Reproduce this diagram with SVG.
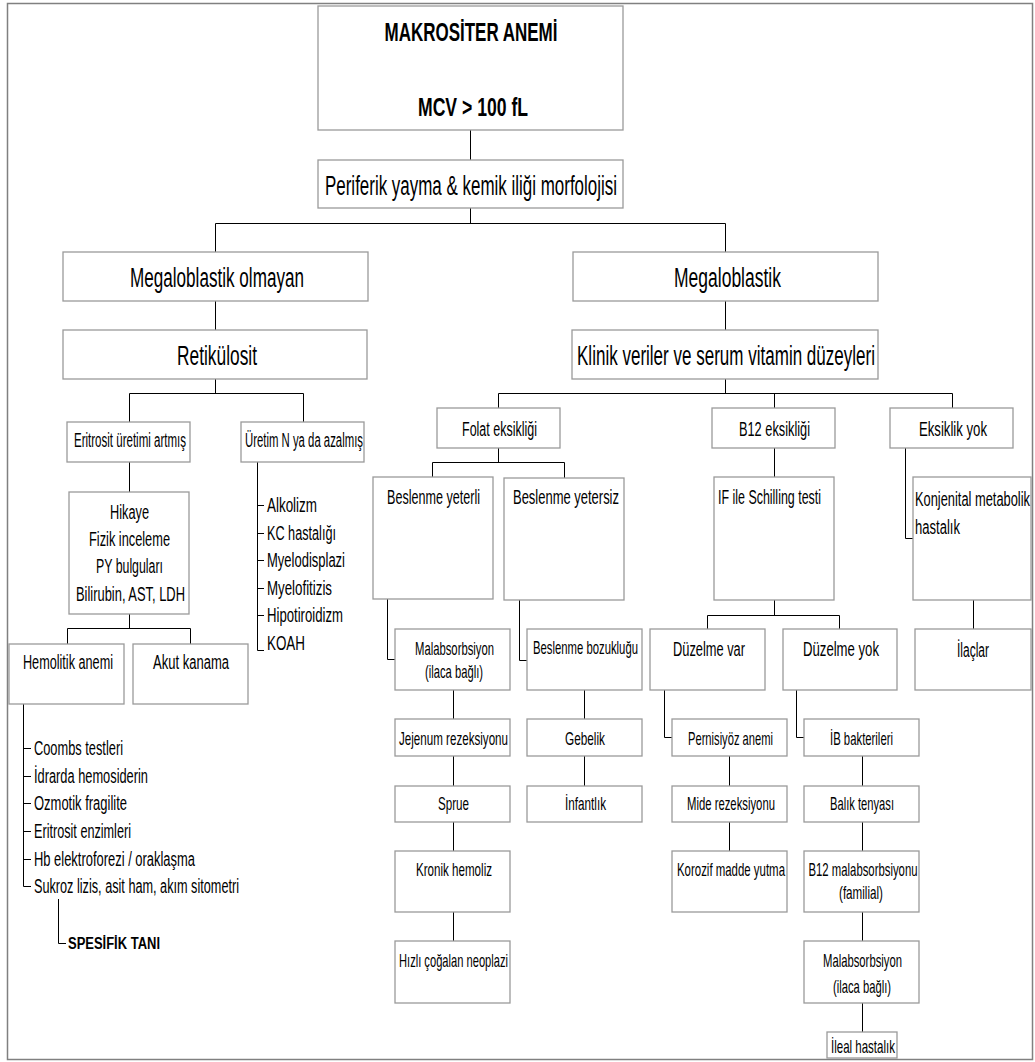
<svg xmlns="http://www.w3.org/2000/svg" width="1035" height="1062" viewBox="0 0 1035 1062">
<style>
.bx{fill:#fff;stroke:#9a9a9a;stroke-width:1.3}
.cn{fill:none;stroke:#000;stroke-width:1}
text{font-family:"Liberation Sans",Arial,sans-serif;fill:#000}
.m{text-anchor:middle}
.L{font-size:28px}
.M{font-size:20px}
.S{font-size:18px}
.B{font-weight:bold}
</style>
<rect x="7.5" y="3.5" width="1025" height="1056" fill="#fff" stroke="#808080" stroke-width="1.5"/>
<g id="connectors" class="cn">
<path d="M470.5 130V160M470.5 208V223.5M215.5 223.5H725.5M215.5 223.5V252M725.5 223.5V252"/>
<path d="M215.5 301V330M725.5 301V330"/>
<path d="M215.5 379V393.5M129.5 393.5H303.5M129.5 393.5V422M303.5 393.5V422"/>
<path d="M129.5 462V492M129.5 614V628.5M67.5 628.5H190.5M67.5 628.5V644M190.5 628.5V644"/>
<path d="M257.5 462V650.5H264M257.5 505.5H264M257.5 533.5H264M257.5 560.5H264M257.5 588.5H264M257.5 615.5H264"/>
<path d="M23.5 704V886.5H31M23.5 748.5H31M23.5 776.5H31M23.5 803.5H31M23.5 831.5H31M23.5 859.5H31"/>
<path d="M58.5 899V943.5H66"/>
<path d="M725.5 379V393.5M498.5 393.5H952.5M498.5 393.5V408M774.5 393.5V408M952.5 393.5V408"/>
<path d="M498.5 448V462.5M432.5 462.5H564.5M432.5 462.5V477M564.5 462.5V478"/>
<path d="M774.5 448V477M905.5 448V538.5H913"/>
<path d="M387.5 599V659.5H395M519.5 600V660.5H527"/>
<path d="M774.5 600V615.5M707.5 615.5H839.5M707.5 615.5V629M839.5 615.5V629M973.5 600V629"/>
<path d="M453.5 690V719M453.5 756V786M453.5 822V851M453.5 912V941"/>
<path d="M584.5 690V719M584.5 756V786"/>
<path d="M664.5 690V737.5H672M796.5 690V737.5H804"/>
<path d="M729.5 756V786M729.5 822V851"/>
<path d="M862.5 756V786M862.5 822V851M862.5 912V941M862.5 1003V1032"/>
</g>
<g id="n-top"><rect class="bx" x="318" y="6" width="305" height="124"/>
<text class="m B" transform="scale(.6 1)" x="785" y="41" font-size="26" textLength="288.33" lengthAdjust="spacingAndGlyphs">MAKROSİTER ANEMİ</text>
<text class="m B" transform="scale(.6 1)" x="788.33" y="116" font-size="26" textLength="183.33" lengthAdjust="spacingAndGlyphs">MCV &gt; 100 fL</text></g>
<g id="n-periferik"><rect class="bx" x="318" y="160" width="305" height="48"/>
<text class="m L" transform="scale(.6 1)" x="785" y="195" textLength="486.67" lengthAdjust="spacingAndGlyphs">Periferik yayma &amp; kemik iliği morfolojisi</text></g>
<g id="n-megolm"><rect class="bx" x="63" y="252" width="305" height="49"/>
<text class="m L" transform="scale(.6 1)" x="361.67" y="287" textLength="290" lengthAdjust="spacingAndGlyphs">Megaloblastik olmayan</text></g>
<g id="n-mega"><rect class="bx" x="573" y="252" width="305" height="49"/>
<text class="m L" transform="scale(.6 1)" x="1212.5" y="287" textLength="178.33" lengthAdjust="spacingAndGlyphs">Megaloblastik</text></g>
<g id="n-retik"><rect class="bx" x="63" y="330" width="304" height="49"/>
<text class="m L" transform="scale(.6 1)" x="361.67" y="365" textLength="133.33" lengthAdjust="spacingAndGlyphs">Retikülosit</text></g>
<g id="n-klinik"><rect class="bx" x="572" y="330" width="306" height="49"/>
<text class="m L" transform="scale(.6 1)" x="1210" y="365" textLength="496.67" lengthAdjust="spacingAndGlyphs">Klinik veriler ve serum vitamin düzeyleri</text></g>
<g id="n-eritart"><rect class="bx" x="67" y="422" width="123" height="40"/>
<text class="m M" transform="scale(.6 1)" x="216.67" y="447" textLength="186.67" lengthAdjust="spacingAndGlyphs">Eritrosit üretimi artmış</text></g>
<g id="n-uretimN"><rect class="bx" x="241" y="422" width="123" height="40"/>
<text class="m M" transform="scale(.6 1)" x="506.67" y="447" textLength="196.67" lengthAdjust="spacingAndGlyphs">Üretim N ya da azalmış</text></g>
<g id="n-uretim-list">
<text class="M" transform="scale(.6 1)" x="445" y="512" textLength="83.33" lengthAdjust="spacingAndGlyphs">Alkolizm</text>
<text class="M" transform="scale(.6 1)" x="445" y="540" textLength="115" lengthAdjust="spacingAndGlyphs">KC hastalığı</text>
<text class="M" transform="scale(.6 1)" x="445" y="567" textLength="130" lengthAdjust="spacingAndGlyphs">Myelodisplazi</text>
<text class="M" transform="scale(.6 1)" x="445" y="595" textLength="108.33" lengthAdjust="spacingAndGlyphs">Myelofitizis</text>
<text class="M" transform="scale(.6 1)" x="445" y="622" textLength="126.67" lengthAdjust="spacingAndGlyphs">Hipotiroidizm</text>
<text class="M" transform="scale(.6 1)" x="445" y="650" textLength="63.33" lengthAdjust="spacingAndGlyphs">KOAH</text></g>
<g id="n-hikaye"><rect class="bx" x="69" y="492" width="120" height="122"/>
<text class="m M" transform="scale(.6 1)" x="215.83" y="519" textLength="65" lengthAdjust="spacingAndGlyphs">Hikaye</text>
<text class="m M" transform="scale(.6 1)" x="215.83" y="546" textLength="135" lengthAdjust="spacingAndGlyphs">Fizik inceleme</text>
<text class="m M" transform="scale(.6 1)" x="215.83" y="573" textLength="111.67" lengthAdjust="spacingAndGlyphs">PY bulguları</text>
<text class="m M" transform="scale(.6 1)" x="217.5" y="601" textLength="181.67" lengthAdjust="spacingAndGlyphs">Bilirubin, AST, LDH</text></g>
<g id="n-hemolitik"><rect class="bx" x="9" y="644" width="115" height="60"/>
<text class="m M" transform="scale(.6 1)" x="113.33" y="669" textLength="150" lengthAdjust="spacingAndGlyphs">Hemolitik anemi</text></g>
<g id="n-akut"><rect class="bx" x="133" y="644" width="115" height="60"/>
<text class="m M" transform="scale(.6 1)" x="318.33" y="669" textLength="126.67" lengthAdjust="spacingAndGlyphs">Akut kanama</text></g>
<g id="n-hemolitik-list">
<text class="M" transform="scale(.6 1)" x="56.67" y="755" textLength="148.33" lengthAdjust="spacingAndGlyphs">Coombs testleri</text>
<text class="M" transform="scale(.6 1)" x="56.67" y="783" textLength="190" lengthAdjust="spacingAndGlyphs">İdrarda hemosiderin</text>
<text class="M" transform="scale(.6 1)" x="56.67" y="810" textLength="155" lengthAdjust="spacingAndGlyphs">Ozmotik fragilite</text>
<text class="M" transform="scale(.6 1)" x="56.67" y="838" textLength="161.67" lengthAdjust="spacingAndGlyphs">Eritrosit enzimleri</text>
<text class="M" transform="scale(.6 1)" x="56.67" y="866" textLength="268.33" lengthAdjust="spacingAndGlyphs">Hb elektroforezi / oraklaşma</text>
<text class="M" transform="scale(.6 1)" x="56.67" y="893" textLength="341.67" lengthAdjust="spacingAndGlyphs">Sukroz lizis, asit ham, akım sitometri</text></g>
<g id="n-spesifik"><text class="B" transform="scale(.6 1)" x="113.33" y="949" font-size="17" textLength="153.33" lengthAdjust="spacingAndGlyphs">SPESİFİK TANI</text></g>
<g id="n-folat"><rect class="bx" x="437" y="408" width="123" height="40"/>
<text class="m M" transform="scale(.6 1)" x="832.5" y="436" textLength="125" lengthAdjust="spacingAndGlyphs">Folat eksikliği</text></g>
<g id="n-b12"><rect class="bx" x="712" y="408" width="123" height="40"/>
<text class="m M" transform="scale(.6 1)" x="1290.83" y="436" textLength="118.33" lengthAdjust="spacingAndGlyphs">B12 eksikliği</text></g>
<g id="n-eksyok"><rect class="bx" x="890" y="408" width="123" height="40"/>
<text class="m M" transform="scale(.6 1)" x="1588.33" y="436" textLength="113.33" lengthAdjust="spacingAndGlyphs">Eksiklik yok</text></g>
<g id="n-besyet"><rect class="bx" x="373" y="477" width="120" height="122"/>
<text class="m M" transform="scale(.6 1)" x="722.5" y="504" textLength="155" lengthAdjust="spacingAndGlyphs">Beslenme yeterli</text></g>
<g id="n-besyetsiz"><rect class="bx" x="504" y="478" width="120" height="122"/>
<text class="m M" transform="scale(.6 1)" x="943.33" y="504" textLength="176.67" lengthAdjust="spacingAndGlyphs">Beslenme yetersiz</text></g>
<g id="n-schilling"><rect class="bx" x="714" y="477" width="120" height="123"/>
<text class="M" transform="scale(.6 1)" x="1196.67" y="504" textLength="171.67" lengthAdjust="spacingAndGlyphs">IF ile Schilling testi</text></g>
<g id="n-konj"><rect class="bx" x="913" y="477" width="118" height="123"/>
<text class="M" transform="scale(.6 1)" x="1525" y="506" textLength="191.67" lengthAdjust="spacingAndGlyphs">Konjenital metabolik</text>
<text class="M" transform="scale(.6 1)" x="1525" y="534" textLength="75" lengthAdjust="spacingAndGlyphs">hastalık</text></g>
<g id="n-malab1"><rect class="bx" x="395" y="629" width="115" height="61"/>
<text class="m S" transform="scale(.6 1)" x="757.5" y="655" textLength="131.67" lengthAdjust="spacingAndGlyphs">Malabsorbsiyon</text>
<text class="m S" transform="scale(.6 1)" x="756.67" y="678" textLength="96.67" lengthAdjust="spacingAndGlyphs">(ilaca bağlı)</text></g>
<g id="n-besboz"><rect class="bx" x="527" y="629" width="115" height="61"/>
<text class="m S" transform="scale(.6 1)" x="975.83" y="654" textLength="175" lengthAdjust="spacingAndGlyphs">Beslenme bozukluğu</text></g>
<g id="n-duzvar"><rect class="bx" x="650" y="629" width="115" height="61"/>
<text class="m M" transform="scale(.6 1)" x="1181.67" y="656" textLength="120" lengthAdjust="spacingAndGlyphs">Düzelme var</text></g>
<g id="n-duzyok"><rect class="bx" x="783" y="629" width="114" height="61"/>
<text class="m M" transform="scale(.6 1)" x="1401.67" y="656" textLength="126.67" lengthAdjust="spacingAndGlyphs">Düzelme yok</text></g>
<g id="n-ilaclar"><rect class="bx" x="915" y="629" width="116" height="61"/>
<text class="m M" transform="scale(.6 1)" x="1621.67" y="657" textLength="53.33" lengthAdjust="spacingAndGlyphs">İlaçlar</text></g>
<g id="n-jejenum"><rect class="bx" x="395" y="719" width="115" height="37"/>
<text class="m S" transform="scale(.6 1)" x="755.83" y="745" textLength="181.67" lengthAdjust="spacingAndGlyphs">Jejenum rezeksiyonu</text></g>
<g id="n-gebelik"><rect class="bx" x="527" y="719" width="115" height="37"/>
<text class="m S" transform="scale(.6 1)" x="975" y="745" textLength="66.67" lengthAdjust="spacingAndGlyphs">Gebelik</text></g>
<g id="n-sprue"><rect class="bx" x="395" y="786" width="115" height="36"/>
<text class="m S" transform="scale(.6 1)" x="755.83" y="810" textLength="51.67" lengthAdjust="spacingAndGlyphs">Sprue</text></g>
<g id="n-infant"><rect class="bx" x="527" y="786" width="115" height="36"/>
<text class="m S" transform="scale(.6 1)" x="975.83" y="810" textLength="68.33" lengthAdjust="spacingAndGlyphs">İnfantlık</text></g>
<g id="n-kronik"><rect class="bx" x="395" y="851" width="115" height="61"/>
<text class="m S" transform="scale(.6 1)" x="756.67" y="876" textLength="126.67" lengthAdjust="spacingAndGlyphs">Kronik hemoliz</text></g>
<g id="n-hizli"><rect class="bx" x="395" y="941" width="115" height="62"/>
<text class="m S" transform="scale(.6 1)" x="755.83" y="967" textLength="181.67" lengthAdjust="spacingAndGlyphs">Hızlı çoğalan neoplazi</text></g>
<g id="n-pernis"><rect class="bx" x="672" y="719" width="115" height="37"/>
<text class="m S" transform="scale(.6 1)" x="1217.5" y="745" textLength="141.67" lengthAdjust="spacingAndGlyphs">Pernisiyöz anemi</text></g>
<g id="n-mide"><rect class="bx" x="672" y="786" width="115" height="36"/>
<text class="m S" transform="scale(.6 1)" x="1218.33" y="810" textLength="146.67" lengthAdjust="spacingAndGlyphs">Mide rezeksiyonu</text></g>
<g id="n-koroz"><rect class="bx" x="672" y="851" width="115" height="61"/>
<text class="m S" transform="scale(.6 1)" x="1218.33" y="876" textLength="180" lengthAdjust="spacingAndGlyphs">Korozif madde yutma</text></g>
<g id="n-ib"><rect class="bx" x="804" y="719" width="115" height="37"/>
<text class="m S" transform="scale(.6 1)" x="1435.83" y="745" textLength="105" lengthAdjust="spacingAndGlyphs">İB bakterileri</text></g>
<g id="n-balik"><rect class="bx" x="804" y="786" width="115" height="36"/>
<text class="m S" transform="scale(.6 1)" x="1436.67" y="810" textLength="106.67" lengthAdjust="spacingAndGlyphs">Balık tenyası</text></g>
<g id="n-b12mal"><rect class="bx" x="804" y="851" width="115" height="61"/>
<text class="m S" transform="scale(.6 1)" x="1438.33" y="876" textLength="181.67" lengthAdjust="spacingAndGlyphs">B12 malabsorbsiyonu</text>
<text class="m S" transform="scale(.6 1)" x="1435" y="899" textLength="73.33" lengthAdjust="spacingAndGlyphs">(familial)</text></g>
<g id="n-malab2"><rect class="bx" x="804" y="941" width="115" height="62"/>
<text class="m S" transform="scale(.6 1)" x="1437.5" y="967" textLength="131.67" lengthAdjust="spacingAndGlyphs">Malabsorbsiyon</text>
<text class="m S" transform="scale(.6 1)" x="1436.67" y="993" textLength="96.67" lengthAdjust="spacingAndGlyphs">(ilaca bağlı)</text></g>
<g id="n-ileal"><rect class="bx" x="827" y="1032" width="70" height="26"/>
<text class="m S" transform="scale(.6 1)" x="1438.33" y="1053" textLength="106.67" lengthAdjust="spacingAndGlyphs">İleal hastalık</text></g>
</svg>
